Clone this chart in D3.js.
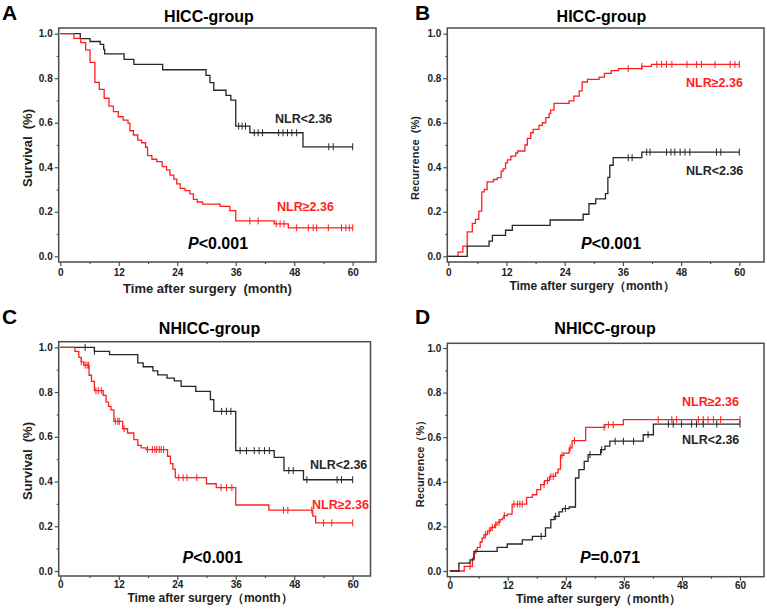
<!DOCTYPE html>
<html>
<head>
<meta charset="utf-8">
<script src="https://cdn.jsdelivr.net/npm/d3@7"></script>
<style>
body { margin: 0; background: #fff; }
svg { display: block; font-family: Arial, "Liberation Sans", sans-serif; }
text { white-space: pre; }
</style>
</head>
<body>
<svg id="chart" width="767" height="611"></svg>
<script>
// tick values shared by all four panels
monthTicks = [0, 12, 24, 36, 48, 60];
monthMinor = [6, 18, 30, 42, 54];
valueTicks = [0, 0.2, 0.4, 0.6, 0.8, 1.0];
valueMinor = [0.1, 0.3, 0.5, 0.7, 0.9];

// [month, value] - value holds from that month on
// A: HICC-group survival
aLowSteps = [[0, 1], [4.1, 0.978], [6.1, 0.965], [8.2, 0.952], [8.9, 0.93], [9.1, 0.909], [13.1, 0.885], [15.1, 0.862], [21, 0.838], [29.9, 0.813], [30.7, 0.78], [31.5, 0.746], [34, 0.723], [35, 0.702], [36, 0.585], [38.9, 0.555], [49.8, 0.492], [60, 0.492]];
aLowCensor = [36.6, 37.3, 38.0, 39.8, 40.6, 41.5, 44.8, 45.7, 46.6, 47.5, 48.5, 55.1, 56.0, 60];
aHighSteps = [[0, 1], [2.8, 0.979], [4.2, 0.96], [5.2, 0.927], [6.1, 0.871], [7.1, 0.781], [8.0, 0.75], [9.0, 0.71], [10.0, 0.675], [10.9, 0.65], [11.9, 0.627], [12.9, 0.612], [13.9, 0.597], [14.3, 0.564], [15.0, 0.545], [15.9, 0.522], [16.7, 0.51], [17.5, 0.49], [17.9, 0.452], [18.8, 0.436], [19.8, 0.425], [20.9, 0.403], [21.8, 0.388], [22.5, 0.365], [23.3, 0.347], [23.9, 0.325], [24.6, 0.305], [25.6, 0.295], [26.6, 0.28], [27.3, 0.256], [28.1, 0.244], [29.2, 0.234], [32.8, 0.224], [34.8, 0.205], [36, 0.159], [43.9, 0.146], [46.8, 0.128], [60, 0.128]];
aHighCensor = [38.9, 40.6, 44.3, 45.1, 45.9, 48.5, 50.9, 51.9, 52.6, 55, 57.7, 58.6, 59.3, 60];

// B: HICC-group recurrence
bHighSteps = [[0, 0], [2.0, 0.019], [3.0, 0.046], [3.9, 0.11], [4.95, 0.148], [5.6, 0.166], [6.3, 0.203], [6.9, 0.289], [7.4, 0.30], [8.0, 0.334], [9.3, 0.345], [10.1, 0.353], [10.9, 0.383], [11.3, 0.393], [11.8, 0.42], [12.2, 0.433], [12.9, 0.45], [13.9, 0.464], [14.3, 0.473], [15.8, 0.5], [16.3, 0.53], [17.0, 0.555], [17.5, 0.57], [18.7, 0.588], [19.4, 0.6], [20.1, 0.623], [20.8, 0.642], [21.1, 0.657], [21.8, 0.687], [24.9, 0.698], [25.9, 0.72], [27.0, 0.743], [27.6, 0.783], [28.7, 0.795], [31.1, 0.805], [32.2, 0.822], [33.6, 0.834], [35.1, 0.843], [39.9, 0.853], [41.9, 0.862], [60, 0.862]];
bHighCensor = [37.1, 39.9, 43, 44, 45, 46.1, 49.2, 51.2, 52.2, 55, 58.1, 59.1, 60];
bLowSteps = [[0, 0], [3.9, 0.046], [8.4, 0.068], [9.1, 0.094], [11.8, 0.117], [13.2, 0.139], [21, 0.163], [27.8, 0.189], [29, 0.236], [30.4, 0.258], [32.4, 0.282], [32.9, 0.355], [33.3, 0.409], [34, 0.443], [39.9, 0.468], [60, 0.468]];
bLowCensor = [37.1, 37.9, 40.9, 41.6, 45, 45.9, 46.7, 47.8, 48.8, 49.8, 55.3, 56.2, 60];

// C: NHICC-group survival
cLowSteps = [[0, 1], [7.0, 0.982], [10.1, 0.967], [15.9, 0.93], [17.0, 0.913], [19, 0.895], [20, 0.877], [21.9, 0.862], [23.4, 0.85], [24.8, 0.825], [27.8, 0.803], [30.8, 0.766], [31.5, 0.714], [36, 0.538], [43.9, 0.508], [45.9, 0.449], [49.9, 0.408], [60, 0.408]];
cLowCensor = [5.1, 7.0, 33.1, 34.1, 35.0, 36.9, 38.2, 39.8, 40.8, 41.9, 42.9, 46.9, 47.8, 50.6, 56.8, 57.7, 60];
cHighSteps = [[0, 1], [3.0, 0.982], [3.8, 0.955], [4.3, 0.935], [4.8, 0.92], [5.9, 0.875], [6.4, 0.848], [7.0, 0.806], [8.8, 0.785], [9.4, 0.755], [9.9, 0.736], [10.4, 0.72], [11.0, 0.669], [12.8, 0.636], [13.8, 0.617], [15.1, 0.587], [15.9, 0.562], [16.6, 0.55], [17.6, 0.543], [22.0, 0.513], [22.6, 0.48], [23.1, 0.455], [23.6, 0.417], [30.0, 0.39], [32.0, 0.373], [36.0, 0.295], [42.8, 0.272], [51.8, 0.245], [52.4, 0.215], [60, 0.215]];
cHighCensor = [4.3, 5.1, 5.5, 5.8, 7.3, 7.8, 8.4, 11.3, 11.8, 12.1, 13.1, 17.9, 18.9, 19.4, 19.8, 20.3, 20.7, 21.2, 24.3, 25.2, 26, 28, 33, 34.1, 35.2, 45.8, 46.7, 51.6, 54, 55.7, 60];

// D: NHICC-group recurrence
dHighSteps = [[0, 0], [3.0, 0.021], [4.7, 0.058], [5.1, 0.08], [5.4, 0.095], [5.7, 0.106], [6.3, 0.13], [6.7, 0.148], [7.1, 0.163], [7.8, 0.18], [8.5, 0.195], [9.3, 0.207], [9.8, 0.218], [10.4, 0.23], [10.9, 0.237], [11.2, 0.248], [11.9, 0.255], [12.9, 0.3], [15.9, 0.33], [17.1, 0.342], [18.0, 0.365], [18.8, 0.387], [19.6, 0.405], [20.6, 0.424], [21.9, 0.44], [22.4, 0.457], [22.9, 0.519], [23.6, 0.529], [24.7, 0.552], [25.3, 0.585], [28.1, 0.644], [32.1, 0.656], [35.9, 0.679], [60, 0.679]];
dHighCensor = [4.2, 7.4, 8.2, 8.8, 9.5, 10.2, 11.3, 13.3, 14, 14.5, 15, 19.5, 20.2, 20.9, 21.4, 23.2, 24.9, 25.8, 31.9, 32.8, 33.8, 43.1, 45.9, 46.9, 51.4, 52.4, 53.4, 54.5, 56, 60];
dLowSteps = [[0, 0], [1.9, 0.035], [4.2, 0.05], [5.0, 0.088], [9.8, 0.106], [11.9, 0.121], [15.0, 0.14], [17.1, 0.155], [19.8, 0.193], [20.9, 0.23], [21.6, 0.245], [22.6, 0.265], [23.3, 0.28], [24.7, 0.287], [26.0, 0.417], [26.7, 0.455], [27.8, 0.492], [28.6, 0.522], [31.2, 0.544], [32.1, 0.56], [33.1, 0.582], [40, 0.611], [42.1, 0.659], [60, 0.659]];
dLowCensor = [18.9, 21.9, 23.9, 29, 31.4, 34.2, 35.9, 38, 41, 45.2, 46.2, 47.9, 50, 51, 52.4, 55.2, 60];

redColor = "#ff1f1f";
blackColor = "#262626";
frameColor = "#4d4d4d";

svg = d3.select("#chart");

// pixel layout of each panel
panels = [
    {
        letter: "A", letterX: 2, letterY: 20,
        title: "HICC-group", titleX: 209, titleY: 22,
        x0: 60.3, x60: 352.7, y1: 33.7, y0: 256.3,
        frame: [58.7, 28, 376, 262], xPad: 3,
        yLabel: "Survival  (%)", yLabelX: 31.5, yLabelY: 148, yLabelSize: 13,
        xLabel: "Time after surgery  (month)", xLabelX: 207.5, xLabelY: 293, xLabelSize: 13,
        pText: "<0.001", pX: 218, pY: 249,
        series: [
            { steps: aLowSteps, censor: aLowCensor, color: blackColor, label: "NLR<2.36", lx: 275, ly: 123 },
            { steps: aHighSteps, censor: aHighCensor, color: redColor, label: "NLR≥2.36", lx: 277, ly: 211 }
        ]
    },
    {
        letter: "B", letterX: 415, letterY: 20,
        title: "HICC-group", titleX: 601.5, titleY: 22,
        x0: 448.3, x60: 739.3, y1: 33.7, y0: 256.3,
        frame: [447.3, 28, 764, 262], xPad: 3,
        yLabel: "Recurrence  (%)", yLabelX: 418.5, yLabelY: 158, yLabelSize: 11,
        xLabel: "Time after surgery（month）", xLabelX: 592, xLabelY: 290, xLabelSize: 12,
        pText: "<0.001", pX: 611, pY: 249,
        series: [
            { steps: bHighSteps, censor: bHighCensor, color: redColor, label: "NLR≥2.36", lx: 686, ly: 87 },
            { steps: bLowSteps, censor: bLowCensor, color: blackColor, label: "NLR<2.36", lx: 686, ly: 175 }
        ]
    },
    {
        letter: "C", letterX: 2, letterY: 324,
        title: "NHICC-group", titleX: 209.5, titleY: 334,
        x0: 60.3, x60: 352.7, y1: 347.3, y0: 571,
        frame: [58.7, 341.7, 370.5, 576], xPad: 1,
        yLabel: "Survival  (%)", yLabelX: 31.5, yLabelY: 461, yLabelSize: 13,
        xLabel: "Time after surgery（month）", xLabelX: 210, xLabelY: 602, xLabelSize: 12,
        pText: "<0.001", pX: 212.5, pY: 563,
        series: [
            { steps: cLowSteps, censor: cLowCensor, color: blackColor, label: "NLR<2.36", lx: 310, ly: 469 },
            { steps: cHighSteps, censor: cHighCensor, color: redColor, label: "NLR≥2.36", lx: 312, ly: 509 }
        ]
    },
    {
        letter: "D", letterX: 415, letterY: 324,
        title: "NHICC-group", titleX: 605, titleY: 334,
        x0: 449.7, x60: 740, y1: 348, y0: 571,
        frame: [447.3, 343.3, 764, 576.7], xPad: 1,
        yLabel: "Recurrence（%）", yLabelX: 423.5, yLabelY: 461, yLabelSize: 11,
        xLabel: "Time after surgery（month）", xLabelX: 598.5, xLabelY: 603, xLabelSize: 12,
        pText: "=0.071", pX: 610, pY: 563,
        series: [
            { steps: dHighSteps, censor: dHighCensor, color: redColor, label: "NLR≥2.36", lx: 682, ly: 406 },
            { steps: dLowSteps, censor: dLowCensor, color: blackColor, label: "NLR<2.36", lx: 682, ly: 444 }
        ]
    }
];

// value of a step curve at a given month
function stepValue(steps, m) {
    var i = d3.bisector(function (d) { return d[0]; }).right(steps, m) - 1;
    return steps[Math.max(0, i)][1];
}

function drawPanel(p) {
    var xScale = d3.scaleLinear().domain([0, 60]).range([p.x0, p.x60]);
    var yScale = d3.scaleLinear().domain([0, 1]).range([p.y0, p.y1]);
    var f = p.frame;

    var g = svg.append("g").attr("class", "panel");

    /* frame */
    g.append("rect")
        .attr("x", f[0]).attr("y", f[1])
        .attr("width", f[2] - f[0]).attr("height", f[3] - f[1])
        .attr("fill", "none")
        .attr("stroke", frameColor)
        .attr("stroke-width", 1.5);

    /* axes sit on the frame edges */
    var yAxis = d3.axisLeft(yScale).tickValues(valueTicks).tickSize(4).tickPadding(2)
        .tickFormat(d3.format(".1f"));
    var yMinor = d3.axisLeft(yScale).tickValues(valueMinor).tickSize(2).tickFormat("");
    var xAxis = d3.axisBottom(xScale).tickValues(monthTicks).tickSize(4).tickPadding(p.xPad);
    var xMinor = d3.axisBottom(xScale).tickValues(monthMinor).tickSize(2).tickFormat("");

    [yAxis, yMinor].forEach(function (ax) {
        g.append("g").attr("transform", `translate(${f[0]},0)`).call(ax);
    });
    [xAxis, xMinor].forEach(function (ax) {
        g.append("g").attr("transform", `translate(0,${f[3]})`).call(ax);
    });
    g.selectAll(".domain").remove();
    g.selectAll(".tick line").attr("stroke", frameColor).attr("stroke-width", 1.2);
    g.selectAll(".tick text")
        .attr("fill", "#222")
        .style("font-size", "10px")
        .style("font-weight", "bold");

    /* curves */
    var line = d3.line()
        .x(function (d) { return xScale(d[0]); })
        .y(function (d) { return yScale(d[1]); })
        .curve(d3.curveStepAfter);

    p.series.forEach(function (s) {
        g.append("path")
            .attr("d", line(s.steps))
            .attr("fill", "none")
            .attr("stroke", s.color)
            .attr("stroke-width", 1.3);

        g.append("g").selectAll("line")
            .data(s.censor).enter()
            .append("line")
            .attr("x1", function (d) { return xScale(d); })
            .attr("x2", function (d) { return xScale(d); })
            .attr("y1", function (d) { return yScale(stepValue(s.steps, d)) - 3.5; })
            .attr("y2", function (d) { return yScale(stepValue(s.steps, d)) + 3.5; })
            .attr("stroke", s.color)
            .attr("stroke-width", 1);

        g.append("text")
            .attr("x", s.lx).attr("y", s.ly)
            .attr("fill", s.color)
            .style("font-size", "12.5px")
            .style("font-weight", "bold")
            .text(s.label);
    });

    /* texts */
    g.append("text")
        .attr("x", p.letterX).attr("y", p.letterY)
        .style("font-size", "21px").style("font-weight", "bold")
        .text(p.letter);

    g.append("text")
        .attr("x", p.titleX).attr("y", p.titleY)
        .attr("text-anchor", "middle")
        .style("font-size", "16px").style("font-weight", "bold")
        .text(p.title);

    g.append("text")
        .attr("transform", `translate(${p.yLabelX},${p.yLabelY}) rotate(-90)`)
        .attr("text-anchor", "middle")
        .attr("fill", "#222")
        .style("font-size", p.yLabelSize + "px").style("font-weight", "bold")
        .text(p.yLabel);

    g.append("text")
        .attr("x", p.xLabelX).attr("y", p.xLabelY)
        .attr("text-anchor", "middle")
        .attr("fill", "#222")
        .style("font-size", p.xLabelSize + "px").style("font-weight", "bold")
        .text(p.xLabel);

    var pt = g.append("text")
        .attr("x", p.pX).attr("y", p.pY)
        .attr("text-anchor", "middle")
        .style("font-size", "16px").style("font-weight", "bold");
    pt.append("tspan").style("font-style", "italic").text("P");
    pt.append("tspan").text(p.pText);
}

panels.forEach(drawPanel);
</script>
</body>
</html>
